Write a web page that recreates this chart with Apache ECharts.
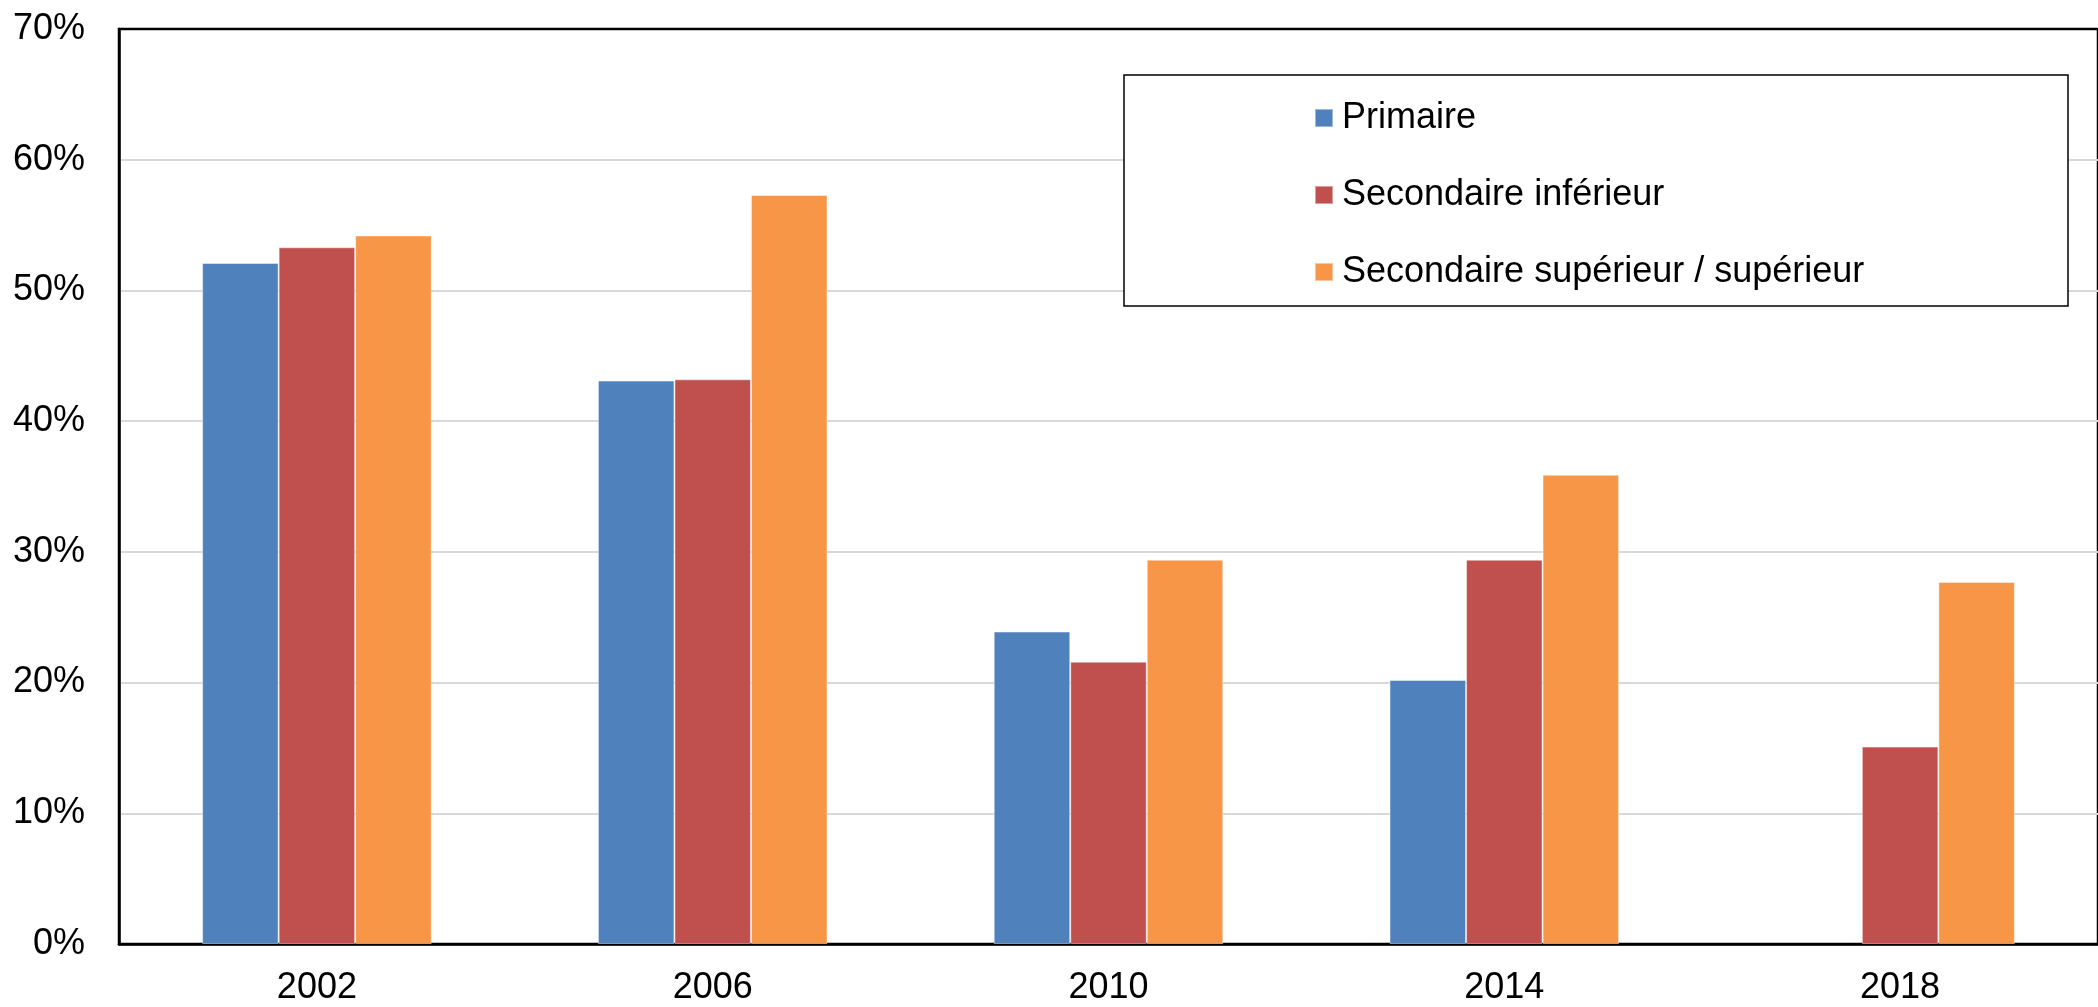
<!DOCTYPE html>
<html>
<head>
<meta charset="utf-8">
<script src="https://cdn.jsdelivr.net/npm/echarts@6/dist/echarts.min.js"></script>
<style>html,body{margin:0;padding:0;background:#fff}#c{width:2098px;height:1007px}</style>
</head>
<body>
<div id="c"></div>
<script>
const categories = ['2002', '2006', '2010', '2014', '2018'];
const seriesNames = ['Primaire', 'Secondaire inférieur', 'Secondaire supérieur / supérieur'];
const primaire = [52.1, 43.1, 23.9, 20.2, null];
const secInf = [53.3, 43.2, 21.6, 29.4, 15.1];
const secSup = [54.2, 57.3, 29.4, 35.9, 27.7];
const yTicks = { min: 0, max: 70, interval: 10 };
const colors = ['#4F81BD', '#C0504D', '#F79646'];

const chart = echarts.init(document.getElementById('c'), null, { renderer: 'canvas' });
const font = 'Liberation Sans, Arial, sans-serif';
const mk = (name, data, color) => ({
  name, type: 'bar', data,
  barGap: '0%', barCategoryGap: '42%',
  itemStyle: { color, borderColor: 'rgba(255,255,255,0.45)', borderWidth: 1 },
  z: 2
});
chart.setOption({
  animation: false,
  backgroundColor: '#fff',
  textStyle: { fontFamily: font },
  grid: { left: 119, top: 29, width: 1990, height: 915, show: true, borderColor: '#000', borderWidth: 2.5, backgroundColor: 'transparent', containLabel: false },
  xAxis: {
    type: 'category', data: categories, boundaryGap: true,
    axisLine: { show: true, lineStyle: { color: '#000', width: 2.5 } },
    axisTick: { show: false },
    axisLabel: { color: '#000', fontSize: 36, fontFamily: font, margin: 26 },
    splitLine: { show: false }
  },
  yAxis: {
    type: 'value', min: yTicks.min, max: yTicks.max, interval: yTicks.interval,
    axisLine: { show: true, lineStyle: { color: '#000', width: 2.5 } },
    axisTick: { show: false },
    axisLabel: { color: '#000', fontSize: 36, fontFamily: font, margin: 34, formatter: '{value}%' },
    splitLine: { show: true, showMaxLine: false, showMinLine: false, lineStyle: { color: '#d9d9d9', width: 2 } }
  },
  graphic: [{
    type: 'rect', z: 10, silent: true,
    shape: { x: 1124, y: 75, width: 944, height: 231 },
    style: { fill: '#fff', stroke: '#000', lineWidth: 1.5 }
  }],
  legend: {
    orient: 'vertical', left: 1309, top: 93, z: 20,
    itemWidth: 18, itemHeight: 18, itemGap: 37,
    icon: 'rect',
    textStyle: { color: '#000', fontSize: 36, fontFamily: font, lineHeight: 40, padding: [0, 0, 0, 4] },
    data: seriesNames
  },
  series: [mk(seriesNames[0], primaire, colors[0]), mk(seriesNames[1], secInf, colors[1]), mk(seriesNames[2], secSup, colors[2])]
});
</script>
</body>
</html>
